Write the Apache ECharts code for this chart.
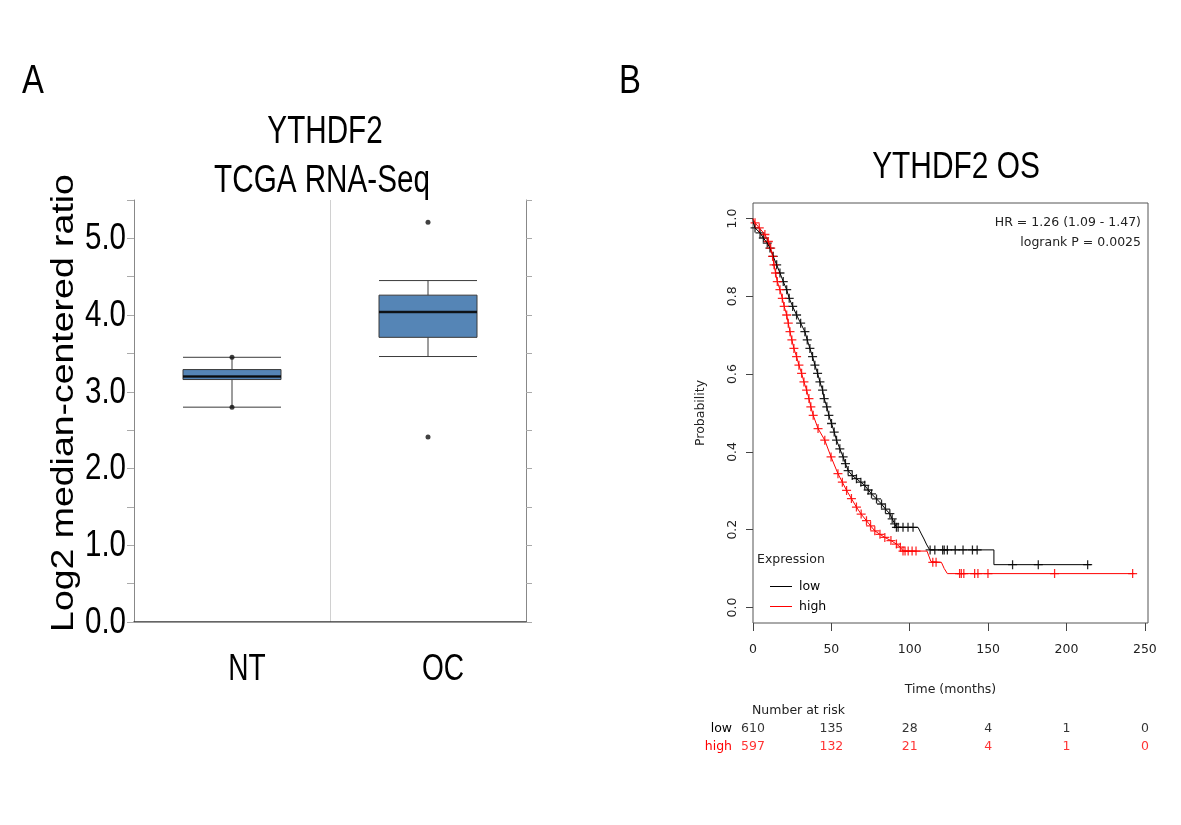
<!DOCTYPE html>
<html>
<head>
<meta charset="utf-8">
<title>YTHDF2</title>
<script src="https://cdn.jsdelivr.net/npm/echarts@6/dist/echarts.min.js"></script>
<style>
  html, body { margin: 0; padding: 0; background: #fff; }
  #chart { width: 1181px; height: 825px; }
</style>
</head>
<body>
<div id="chart"></div>
<script>
// Panel A: box plot, TCGA RNA-Seq
const groups = ['NT', 'OC'];
// [min, Q1, median, Q3, max]
const boxStats = [
    [2.80, 3.16, 3.20, 3.29, 3.45],
    [3.46, 3.71, 4.04, 4.26, 4.45],
];
const medians = [3.20, 4.04];
const ntPoints = [3.45, 2.80];
const ocPoints = [5.21, 2.41];
const boxTicks = [0, 1, 2, 3, 4, 5];
const boxTickLabels = ['0.0', '1.0', '2.0', '3.0', '4.0', '5.0'];

// Panel B: Kaplan-Meier, [months, probability]
const lowCurve = [
    [0, 1.0], [0.2, 0.989], [1.3, 0.976], [4.5, 0.963], [6.6, 0.95], [9.1, 0.937], [10.8, 0.924],
    [12.9, 0.903], [15.1, 0.881], [17.2, 0.86], [19.3, 0.838], [21.5, 0.817], [23.1, 0.795],
    [25.3, 0.774], [27.8, 0.752], [30.4, 0.731], [33.1, 0.709], [34.6, 0.688], [36.3, 0.666],
    [38, 0.645], [39.5, 0.623], [41.2, 0.602], [42.7, 0.58], [44.4, 0.559], [45.4, 0.537],
    [47.1, 0.516], [48.4, 0.494], [50.1, 0.473], [51.8, 0.451], [53.3, 0.43], [55.4, 0.408],
    [57.5, 0.387], [59, 0.37], [60.7, 0.352], [63.3, 0.339], [66, 0.331], [68.8, 0.322],
    [71.3, 0.314], [73.5, 0.302], [75.6, 0.292], [78.8, 0.279], [82, 0.266], [84.5, 0.253],
    [87.3, 0.241], [88.8, 0.228], [90.4, 0.215], [91.5, 0.206], [105.3, 0.206], [107.4, 0.189],
    [109.1, 0.176], [110.6, 0.163], [112.7, 0.148], [153.7, 0.148], [153.7, 0.11], [215.7, 0.11],
];
const highCurve = [
    [0, 1.0], [1.3, 0.989], [4, 0.976], [7.6, 0.959], [9.8, 0.941], [11.3, 0.924], [12.5, 0.903],
    [13.4, 0.881], [14.4, 0.86], [15.5, 0.838], [17.2, 0.817], [18.7, 0.795], [19.9, 0.774],
    [21.5, 0.752], [22.5, 0.731], [23.6, 0.709], [24.8, 0.688], [26.1, 0.666], [27.8, 0.645],
    [29.3, 0.623], [31, 0.602], [32.5, 0.58], [34.2, 0.559], [35.7, 0.537], [36.9, 0.516],
    [38.4, 0.494], [41.5, 0.46], [45.8, 0.43], [49.8, 0.387], [54.2, 0.344], [57, 0.322],
    [59.7, 0.301], [62.8, 0.28], [66, 0.258], [69, 0.24], [72.4, 0.223], [75, 0.21], [77.7, 0.197],
    [81, 0.188], [84.1, 0.18], [88, 0.172], [91.5, 0.163], [94, 0.155], [95.7, 0.145],
    [111, 0.145], [113.5, 0.118], [120.2, 0.116], [122, 0.1], [124, 0.087], [243.3, 0.087],
];
// censored cases past the dense part of the curves
const lowCensorTail = [
    [92.6, 0.206], [95.7, 0.206], [98.9, 0.206], [102.1, 0.206],
    [113, 0.148], [116, 0.148], [121, 0.148], [122, 0.148], [124, 0.148], [129, 0.148],
    [134, 0.148], [140, 0.148], [143, 0.148],
    [165.6, 0.11], [182, 0.11], [213.5, 0.11],
];
const highCensorTail = [
    [97, 0.145], [99, 0.145], [101.5, 0.145], [104, 0.145],
    [114.7, 0.116], [116.8, 0.116],
    [131.8, 0.087], [132.9, 0.087], [134.5, 0.087], [141.4, 0.087], [143.5, 0.087],
    [149.9, 0.087], [192.4, 0.087], [242.2, 0.087],
];
const kmTicks = [0, 50, 100, 150, 200, 250];
const probTicks = [0, 0.2, 0.4, 0.6, 0.8, 1.0];
const lowAtRisk = [610, 135, 28, 4, 1, 0];
const highAtRisk = [597, 132, 21, 4, 1, 0];

// no narrow font installed: regular Liberation Sans squeezed with scaleX
const sans = '"Liberation Sans", Arial, sans-serif';
const rfont = '"DejaVu Sans", sans-serif';
const plus = 'path://M0,4.3H10V5.7H0ZM4.3,0H5.7V10H4.3Z';

const lowCensor = lowCurve.filter(d => d[0] >= 1 && d[0] <= 91.5).concat(lowCensorTail);
const highCensor = highCurve.filter(d => d[0] >= 1 && d[0] <= 95.7).concat(highCensorTail);

function label(text, x, y, size, sx, align, extra) {
    return Object.assign({
        type: 'text', x: x, y: y, scaleX: sx,
        style: { text: text, font: size + 'px ' + sans, fill: '#000', align: align, verticalAlign: 'middle' },
    }, extra || {});
}

const chart = echarts.init(document.getElementById('chart'));
chart.setOption({
    animation: false,
    grid: [
        { left: 134, top: 200, width: 392, height: 422 },
        { left: 753, top: 203, width: 395, height: 420, show: true, borderColor: '#555', borderWidth: 1 },
        { left: 753, top: 720, width: 395, height: 36 },
    ],
    xAxis: [
        {
            gridIndex: 0, type: 'category', data: groups, position: 'bottom',
            axisLine: { lineStyle: { color: '#333', width: 1.5 } },
            axisTick: { length: 10, lineStyle: { color: '#333' } },
            splitLine: { show: true, lineStyle: { color: '#d0d0d0' } },
            axisLabel: { show: false },
        },
        {
            gridIndex: 0, type: 'category', data: groups, position: 'top',
            axisLine: { lineStyle: { color: '#999' } },
            axisTick: { show: false }, axisLabel: { show: false },
        },
        {
            gridIndex: 1, type: 'value', min: 0, max: 252,
            name: 'Time (months)', nameLocation: 'middle', nameGap: 60,
            nameTextStyle: { fontFamily: rfont, fontSize: 12.5, color: '#222' },
            axisLine: { show: false, onZero: false },
            axisTick: { length: 8, customValues: kmTicks, lineStyle: { color: '#444' } },
            axisLabel: { customValues: kmTicks, fontFamily: rfont, fontSize: 12.5, color: '#222', margin: 20 },
            splitLine: { show: false },
        },
        { gridIndex: 2, type: 'value', min: 0, max: 252, show: false },
    ],
    yAxis: [
        {
            gridIndex: 0, type: 'value', min: 0, max: 5.5, interval: 0.5,
            axisLine: { show: true, lineStyle: { color: '#888' } },
            axisTick: { show: true, length: 7, lineStyle: { color: '#aaa' } },
            axisLabel: { show: false },
            splitLine: { show: false },
        },
        {
            gridIndex: 0, type: 'value', min: 0, max: 5.5, interval: 0.5, position: 'right',
            axisLine: { show: true, lineStyle: { color: '#888' } },
            axisTick: { show: true, length: 6, lineStyle: { color: '#aaa' } },
            axisLabel: { show: false }, splitLine: { show: false },
        },
        {
            gridIndex: 1, type: 'value', min: -0.04, max: 1.04,
            name: 'Probability', nameLocation: 'middle', nameGap: 46, nameRotate: 90,
            nameTextStyle: { fontFamily: rfont, fontSize: 12.5, color: '#222' },
            axisLine: { show: false, onZero: false },
            axisTick: { length: 7, customValues: probTicks, lineStyle: { color: '#444' } },
            axisLabel: {
                customValues: probTicks, rotate: 90, fontFamily: rfont, fontSize: 12.5, color: '#222', margin: 14,
                formatter: v => v.toFixed(1),
            },
            splitLine: { show: false },
        },
        {
            gridIndex: 2, type: 'category', data: ['low', 'high'], inverse: true,
            axisLine: { show: false }, axisTick: { show: false },
            axisLabel: {
                fontFamily: rfont, fontSize: 12.5, margin: 21,
                color: (v) => (v === 'high' ? '#ff0000' : '#000'),
            },
        },
    ],
    legend: {
        data: ['low', 'high'], orient: 'vertical', left: 765, top: 575,
        icon: 'rect', itemWidth: 22, itemHeight: 1, itemGap: 7,
        textStyle: { fontFamily: rfont, fontSize: 12.5, color: '#000', padding: [0, 0, 0, 2] },
    },
    series: [
        {
            type: 'boxplot', xAxisIndex: 0, yAxisIndex: 0, data: boxStats, boxWidth: [98, 98],
            itemStyle: { color: '#5585b6', borderColor: '#3a3a3a', borderWidth: 1 },
        },
        {
            type: 'scatter', xAxisIndex: 0, yAxisIndex: 0, symbol: 'rect', symbolSize: [98, 2.5],
            data: medians.map((m, i) => [i, m]), itemStyle: { color: '#000' }, z: 5,
        },
        {
            type: 'scatter', xAxisIndex: 0, yAxisIndex: 0, symbolSize: 5,
            data: ntPoints.map(v => [0, v]).concat(ocPoints.map(v => [1, v])),
            itemStyle: { color: '#111' }, z: 6,
        },
        {
            name: 'low', type: 'line', xAxisIndex: 2, yAxisIndex: 2, data: lowCurve,
            showSymbol: false, symbol: 'none', color: '#000', lineStyle: { width: 1, color: '#000' },
        },
        {
            name: 'high', type: 'line', xAxisIndex: 2, yAxisIndex: 2, data: highCurve,
            showSymbol: false, symbol: 'none', color: '#ff0000', lineStyle: { width: 1, color: '#ff0000' },
        },
        {
            name: 'low censored', type: 'scatter', xAxisIndex: 2, yAxisIndex: 2, data: lowCensor,
            symbol: plus, symbolSize: 9, itemStyle: { color: '#000', opacity: 0.85 },
        },
        {
            name: 'high censored', type: 'scatter', xAxisIndex: 2, yAxisIndex: 2, data: highCensor,
            symbol: plus, symbolSize: 9, itemStyle: { color: '#ff0000', opacity: 0.85 },
        },
        {
            type: 'scatter', xAxisIndex: 3, yAxisIndex: 3, symbolSize: 1, itemStyle: { color: 'transparent' },
            data: kmTicks.map((t, i) => [t, 'low', lowAtRisk[i]]),
            label: { show: true, position: 'inside', formatter: p => p.value[2], fontFamily: rfont, fontSize: 12.5, color: '#000' },
        },
        {
            type: 'scatter', xAxisIndex: 3, yAxisIndex: 3, symbolSize: 1, itemStyle: { color: 'transparent' },
            data: kmTicks.map((t, i) => [t, 'high', highAtRisk[i]]),
            label: { show: true, position: 'inside', formatter: p => p.value[2], fontFamily: rfont, fontSize: 12.5, color: '#ff0000' },
        },
    ],
});

// panel A tick and category labels, placed through the axes
const graphics = [
    label('A', 22, 82, 40, 0.82, 'left'),
    label('B', 619, 82, 40, 0.82, 'left'),
    label('YTHDF2', 325, 133, 38, 0.78, 'center'),
    label('TCGA RNA-Seq', 322, 182, 38, 0.78, 'center'),
    label('Log2 median-centered ratio', 64, 403, 32, 1.17, 'center', { rotation: Math.PI / 2 }),
    label('YTHDF2 OS', 956, 168, 36, 0.83, 'center'),
    { type: 'text', x: 1141, y: 223, style: { text: 'HR = 1.26 (1.09 - 1.47)', font: '12.5px ' + rfont, fill: '#222', align: 'right', verticalAlign: 'middle' } },
    { type: 'text', x: 1141, y: 243, style: { text: 'logrank P = 0.0025', font: '12.5px ' + rfont, fill: '#222', align: 'right', verticalAlign: 'middle' } },
    { type: 'text', x: 757, y: 560, style: { text: 'Expression', font: '12.5px ' + rfont, fill: '#222', verticalAlign: 'middle' } },
    { type: 'text', x: 752, y: 711, style: { text: 'Number at risk', font: '12.5px ' + rfont, fill: '#222', verticalAlign: 'middle' } },
];
const axisX = chart.convertToPixel({ yAxisIndex: 0 }, 0) !== undefined ? 126 : 126;
boxTicks.forEach((v, i) => {
    const py = chart.convertToPixel({ yAxisIndex: 0 }, v);
    graphics.push(label(boxTickLabels[i], axisX, py + 1, 36, 0.82, 'right'));
});
groups.forEach(g => {
    const px = chart.convertToPixel({ xAxisIndex: 0 }, g);
    graphics.push(label(g, px + 15, 670, 36, 0.78, 'center'));
});
chart.setOption({ graphic: graphics });
</script>
</body>
</html>
